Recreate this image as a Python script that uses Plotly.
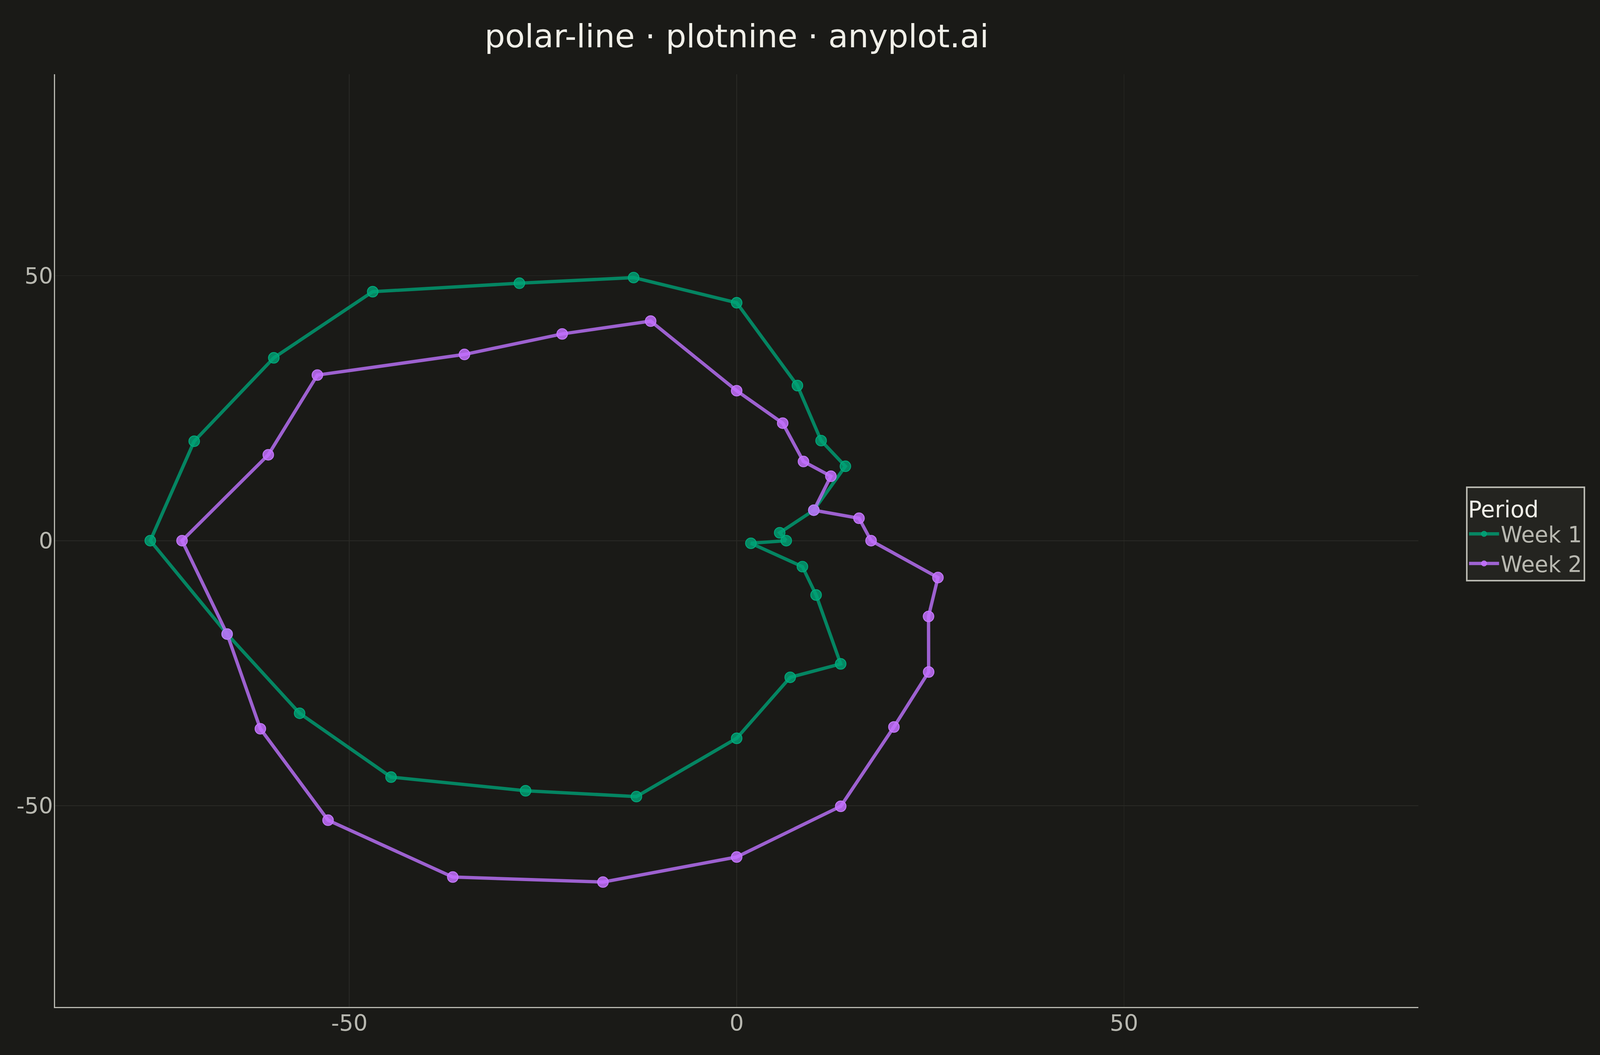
import numpy as np
import plotly.graph_objects as go

# ---- data -------------------------------------------------------------
hours = list(range(24))  # hour of day, theta = hour * 15 degrees
week1 = [6.4, 5.75, 11.5, 19.85, 21.8, 30.3, 44.9, 51.4, 56.1, 66.45, 69.0, 72.5,
         75.7, 68.1, 65.15, 63.1, 54.5, 50.0, 37.3, 26.7, 26.85, 14.5, 9.8, 1.9]
week2 = [17.35, 16.35, 11.5, 17.2, 17.25, 22.96, 28.3, 42.9, 45.05, 49.7, 62.5, 62.6,
         71.6, 68.1, 71.0, 74.6, 73.3, 66.7, 59.7, 51.9, 40.6, 35.05, 28.6, 26.9]
series_names = ["Week 1", "Week 2"]
tick_vals = [-50, 0, 50]
tick_text = ["-50", "0", "50"]

# ---- style ------------------------------------------------------------
W, H = 4800, 2700
MT, MB = 190, 123
BG = "#1A1A17"
GRID = "#2A2A26"
AXIS = "#B8B8B0"
TEXT = "#B8B8B0"
TITLE = "#F0EFE8"
FONT = "DejaVu Sans"
line_cols = ["rgba(0,158,115,0.82)", "rgba(190,115,255,0.80)"]
mark_cols = ["rgba(0,165,120,0.80)", "rgba(196,112,255,0.85)"]
edge_cols = ["rgba(0,175,128,0.95)", "rgba(200,125,255,0.95)"]


def to_xy(r):
    th = np.deg2rad(np.array(hours + [hours[0]]) * 15.0)
    rr = np.array(r + [r[0]])
    return rr * np.cos(th), rr * np.sin(th)


fig = go.Figure()
data = [week1, week2]

# lines first (like geom_path), then points (like geom_point)
for i, r in enumerate(data):
    x, y = to_xy(r)
    fig.add_trace(go.Scatter(x=x, y=y, mode="lines",
                             line=dict(color=line_cols[i], width=10),
                             showlegend=False, hoverinfo="skip"))
for i, r in enumerate(data):
    x, y = to_xy(r)
    fig.add_trace(go.Scatter(x=x[:-1], y=y[:-1], mode="markers",
                             marker=dict(size=32, color=mark_cols[i],
                                         line=dict(color=edge_cols[i], width=2.5)),
                             showlegend=False, name=series_names[i]))
# legend entries
for i in range(2):
    fig.add_trace(go.Scatter(x=[None], y=[None], mode="lines+markers",
                             name=series_names[i],
                             line=dict(color=line_cols[i], width=10),
                             marker=dict(size=16, color=mark_cols[i],
                                         line=dict(color=edge_cols[i], width=1.5))))

axis_common = dict(
    tickvals=tick_vals, ticktext=tick_text,
    showgrid=True, gridcolor=GRID, gridwidth=1.5,
    zeroline=False, showline=True, linecolor=AXIS, linewidth=2.5,
    ticks="", tickfont=dict(family=FONT, size=67, color=TEXT),
    range=[-88, 88], mirror=False,
)

fig.update_layout(
    width=W, height=H, autosize=False,
    paper_bgcolor=BG, plot_bgcolor=BG,
    margin=dict(l=165, r=545, t=MT, b=MB, autoexpand=False),
    title=dict(text="polar-line · plotnine · anyplot.ai",
               font=dict(family=FONT, size=97, color=TITLE),
               x=0.5, xref="paper", xanchor="center",
               y=1 - 92 / H, yref="container", yanchor="middle"),
    xaxis=dict(**axis_common, ticklabelstandoff=-12),
    yaxis=dict(**axis_common, ticklabelstandoff=-10),
    legend=dict(title=dict(text="Period", font=dict(family=FONT, size=68, color=TITLE)),
                font=dict(family=FONT, size=66, color=TEXT),
                bgcolor="#242420", bordercolor=AXIS, borderwidth=4,
                x=1.035, xanchor="left",
                y=0.558, yanchor="top",
                tracegroupgap=0, itemwidth=90),
    showlegend=True,
)

# fit the figure into the browser viewport (uniform scale from the width,
# extra height given to the plot area with the same relative margins)
post = """
var gd = document.getElementById('{plot_id}');
var s = window.innerWidth / %d;
var de = document.documentElement;
de.style.margin = '0'; de.style.padding = '0'; de.style.overflow = 'hidden';
de.style.background = '%s';
document.body.style.margin = '0'; document.body.style.padding = '0';
document.body.style.background = '%s';
document.body.style.zoom = s;
var hn = window.innerHeight / s;
if (Math.abs(hn - %d) > 2) {
  return Plotly.relayout(gd, {height: hn, 'margin.t': %f * hn, 'margin.b': %f * hn});
}
""" % (W, BG, BG, H, MT / H, MB / H)

fig.write_html("out.html", post_script=post, config={"displayModeBar": False})
